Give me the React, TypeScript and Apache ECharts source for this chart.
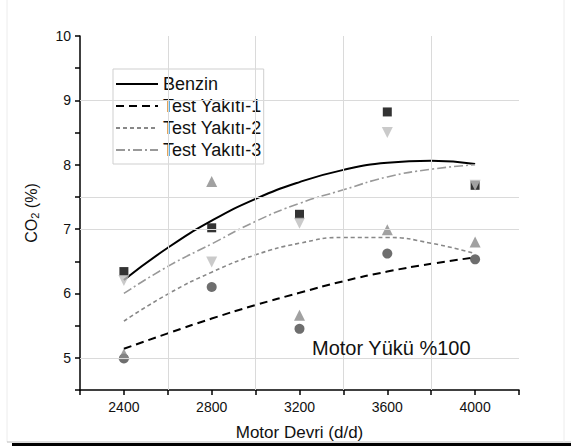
import React, { useEffect, useRef } from "react";
import * as echarts from "echarts";

// Measured points
const xCats = [2400, 2800, 3200, 3600, 4000];
const benzinPts = [6.34, 7.02, 7.23, 8.82, 7.68];
const ty1Pts = [4.99, 6.1, 5.45, 6.62, 6.53];
const ty2Pts = [5.06, 7.74, 5.66, 6.99, 6.8];
const ty3Pts = [6.2, 6.49, 7.09, 8.5, 7.68];

// Fit curves
const fitX = [2400, 2600, 2800, 3000, 3200, 3400, 3600, 3800, 4000];
const benzinFit = [6.21, 6.71, 7.13, 7.47, 7.73, 7.92, 8.03, 8.06, 8.01];
const ty1Fit = [5.14, 5.38, 5.61, 5.82, 6.01, 6.19, 6.34, 6.46, 6.56];
const ty2Fit = [5.57, 5.99, 6.33, 6.6, 6.78, 6.87, 6.87, 6.78, 6.62];
const ty3Fit = [6.0, 6.42, 6.77, 7.12, 7.4, 7.61, 7.81, 7.93, 8.0];

const seriesNames = ["Benzin", "Test Yakıtı-1", "Test Yakıtı-2", "Test Yakıtı-3"];
const xLabelTicks = [2400, 2800, 3200, 3600, 4000];
const vGrid = [2600, 3000, 3400, 3800];
const hGrid = [9, 7.5, 7, 5];

const FONT = 'Arial, "Liberation Sans", sans-serif';

const pair = (xs: number[], ys: number[]) => xs.map((x, i) => [x, ys[i]]);

export default function App() {
  const ref = useRef<HTMLDivElement>(null);
  useEffect(() => {
    if (!ref.current) return;
    const chart = echarts.init(ref.current, null, { renderer: "svg" });
    const lineDefs = [
      { name: seriesNames[0], data: benzinFit, color: "#000", width: 2, type: "solid" as any },
      { name: seriesNames[1], data: ty1Fit, color: "#000", width: 2, type: [8, 5] as any },
      { name: seriesNames[2], data: ty2Fit, color: "#888", width: 1.6, type: [4, 3] as any },
      { name: seriesNames[3], data: ty3Fit, color: "#999", width: 1.6, type: [9, 3, 2, 3] as any },
    ];
    const scatterDefs = [
      { name: "Benzin-ölçüm", data: benzinPts, color: "#000", symbol: "rect", size: 9 },
      { name: "TY1-ölçüm", data: ty1Pts, color: "#4a4a4a", symbol: "circle", size: 10 },
      { name: "TY2-ölçüm", data: ty2Pts, color: "#8a8a8a", symbol: "triangle", size: 11 },
      { name: "TY3-ölçüm", data: ty3Pts, color: "#bdbdbd", symbol: "path://M0,0 L10,0 L5,9 Z", size: 11 },
    ];
    chart.setOption({
      animation: false,
      backgroundColor: "#fff",
      textStyle: { fontFamily: FONT },
      grid: { left: 80, top: 36, width: 439, height: 355, containLabel: false },
      xAxis: {
        type: "value",
        min: 2200,
        max: 4200,
        interval: 200,
        name: "Motor Devri (d/d)",
        nameLocation: "middle",
        nameGap: 34,
        nameTextStyle: { fontSize: 17, color: "#111", fontFamily: FONT },
        axisLine: { lineStyle: { color: "#000", width: 1.5 } },
        axisTick: { show: true, length: 5, inside: false, lineStyle: { color: "#000", width: 1.5 } },
        axisLabel: {
          fontSize: 14,
          color: "#111",
          margin: 10,
          fontFamily: FONT,
          formatter: (v: number) => (xLabelTicks.includes(v) ? String(v) : ""),
        },
        splitLine: { show: false },
      },
      yAxis: {
        type: "value",
        min: 4.5,
        max: 10,
        interval: 0.5,
        name: "{a|CO}{b|2}{a| (%)}",
        nameLocation: "middle",
        nameGap: 40,
        nameRotate: 90,
        nameTextStyle: {
          fontFamily: FONT,
          rich: {
            a: { fontSize: 16, color: "#111", fontFamily: FONT },
            b: { fontSize: 11, color: "#111", fontFamily: FONT, padding: [7, 0, 0, 0] },
          },
        },
        axisLine: { show: true, lineStyle: { color: "#000", width: 1.5 } },
        axisTick: { show: true, length: 5, lineStyle: { color: "#000", width: 1.5 } },
        axisLabel: {
          fontSize: 14,
          color: "#111",
          margin: 9,
          fontFamily: FONT,
          formatter: (v: number) => (Math.abs(v - Math.round(v)) < 1e-9 ? String(Math.round(v)) : ""),
        },
        splitLine: { show: false },
      },
      legend: {
        data: seriesNames,
        orient: "vertical",
        left: 113,
        top: 69,
        itemWidth: 42,
        itemHeight: 12,
        itemGap: 4,
        padding: [6, 2, 5, 2],
        backgroundColor: "#fff",
        borderColor: "#cfcfcf",
        borderWidth: 1,
        itemStyle: { color: "rgba(0,0,0,0)", borderColor: "rgba(0,0,0,0)", borderWidth: 0, opacity: 0 },
        textStyle: { fontSize: 18, color: "#111", fontFamily: FONT },
      },
      graphic: [
        {
          type: "text",
          left: 312,
          top: 338,
          style: { text: "Motor Yükü %100", fontSize: 20, fill: "#111", fontFamily: FONT },
          z: 10,
        },
        { type: "rect", shape: { x: 12, y: 443, width: 559, height: 3 }, style: { fill: "#000" } },
        { type: "line", shape: { x1: 7, y1: 0, x2: 7, y2: 442 }, style: { stroke: "#ececec", lineWidth: 1 } },
        { type: "line", shape: { x1: 7, y1: 442, x2: 571, y2: 442 }, style: { stroke: "#bbb", lineWidth: 1 } },
        { type: "line", shape: { x1: 564, y1: 0, x2: 564, y2: 442 }, style: { stroke: "#ececec", lineWidth: 1 } },
      ],
      series: [
        {
          name: "grid",
          type: "line",
          data: [],
          silent: true,
          z: 0,
          markLine: {
            silent: true,
            symbol: "none",
            label: { show: false },
            lineStyle: { color: "#dadada", type: "solid", width: 1 },
            data: [
              ...vGrid.map((v) => ({ xAxis: v })),
              ...hGrid.map((v) => ({ yAxis: v })),
            ],
          },
        },
        ...lineDefs.map((d) => ({
          name: d.name,
          type: "line",
          data: pair(fitX, d.data),
          smooth: true,
          symbol: "none",
          z: 3,
          color: d.color,
          lineStyle: { color: d.color, width: d.width, type: d.type },
        })),
        ...scatterDefs.map((d) => ({
          name: d.name,
          type: "scatter",
          data: pair(xCats, d.data),
          symbol: d.symbol,
          symbolSize: d.size,
          z: 4,
          itemStyle: { color: d.color },
        })),
      ],
    });
    return () => chart.dispose();
  }, []);
  return <div ref={ref} style={{ position: "fixed", left: 0, top: 0, width: 571, height: 446 }} />;
}
